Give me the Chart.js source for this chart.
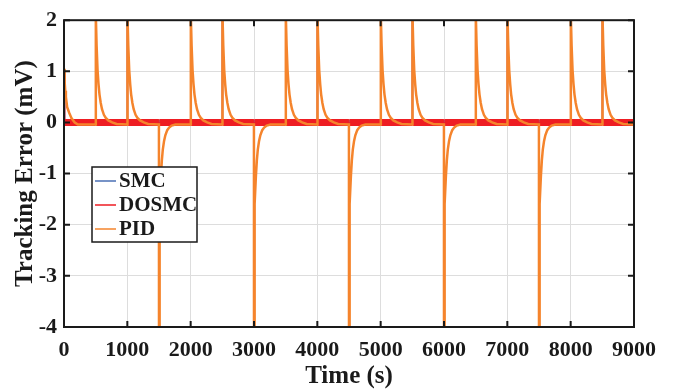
<!DOCTYPE html>
<html>
<head>
<meta charset="utf-8">
<script src="https://cdn.jsdelivr.net/npm/chart.js@4.4.0/dist/chart.umd.min.js"></script>
<style>
  html, body { margin: 0; padding: 0; background: #fff; }
  #wrap { width: 673px; height: 389px; }
</style>
</head>
<body>
<div id="wrap"><canvas id="err" width="673" height="389"></canvas></div>
<script>
const seriesNames = ['SMC', 'DOSMC', 'PID'];
const seriesColors = ['#4a6fb5', '#ee1d23', '#f5842c'];
const xTicks = [0, 1000, 2000, 3000, 4000, 5000, 6000, 7000, 8000, 9000];
const yTicks = [-4, -3, -2, -1, 0, 1, 2];

// load switching instants (s) and step direction
const switchTimes = [500, 1000, 1500, 2000, 2500, 3000, 3500, 4000, 4500, 5000, 5500, 6000, 6500, 7000, 7500, 8000, 8500];
const switchSigns = [1, 1, -1, 1, 1, -1, 1, 1, -1, 1, 1, -1, 1, 1, -1, 1, 1];

// PID transient after a switch: offset (s) -> error (mV)
const pidOffsets = [0, 5, 15, 30, 45, 60, 80, 100, 130, 160, 200, 260, 330];
const pidRise = [2.6, 2.1, 1.5, 1.02, 0.75, 0.55, 0.38, 0.26, 0.15, 0.09, 0.04, 0.0, -0.03];
const pidDrop = [-4.6, -2.6, -1.6, -1.05, -0.74, -0.53, -0.36, -0.25, -0.15, -0.1, -0.06, -0.04, -0.04];
const pidStartOffsets = [0, 10, 20, 30, 50, 85, 120, 170, 220];
const pidStart = [1.05, 0.8, 0.62, 0.5, 0.3, 0.18, 0.08, 0.0, -0.04];
const pidRest = -0.04;

// sliding mode controllers: short spike at each switch (up, down)
const smcStart = [1.0, 0.0];
const smcSpike = [2.6, -4.6];
const dosmcStart = [1.0, 0.0];
const dosmcSpike = [2.6, -4.6];
const smRest = 0.0;

function pidPoints() {
  const pts = pidStartOffsets.map((o, i) => ({ x: o, y: pidStart[i] }));
  switchTimes.forEach((t, k) => {
    const shape = switchSigns[k] > 0 ? pidRise : pidDrop;
    pts.push({ x: t - 1, y: pidRest });
    pidOffsets.forEach((o, i) => pts.push({ x: t + o, y: shape[i] }));
  });
  pts.push({ x: 9000, y: pidRest });
  return pts;
}

function smPoints(start, spike) {
  const pts = [{ x: 0, y: start[0] }, { x: 10, y: start[1] }];
  switchTimes.forEach((t, k) => {
    pts.push({ x: t - 1, y: smRest });
    pts.push({ x: t, y: switchSigns[k] > 0 ? spike[0] : spike[1] });
    pts.push({ x: t + 4, y: smRest });
  });
  pts.push({ x: 9000, y: smRest });
  return pts;
}

// thick noisy band near zero, thin lines on the spikes
function bandWidth(thick, thin) {
  return ctx => (Math.abs(ctx.p0.parsed.y) > 0.3 || Math.abs(ctx.p1.parsed.y) > 0.3) ? thin : thick;
}

const serif = "'Liberation Serif', 'Times New Roman', serif";

const frame = {
  id: 'frame',
  afterDatasetsDraw(chart) {
    const { ctx, chartArea: a, scales: { x, y } } = chart;
    ctx.save();
    ctx.strokeStyle = '#1a1a1a';
    ctx.lineWidth = 2;
    ctx.strokeRect(a.left, a.top, a.right - a.left, a.bottom - a.top);
    const len = 6;
    ctx.beginPath();
    xTicks.forEach(v => {
      const px = x.getPixelForValue(v);
      ctx.moveTo(px, a.bottom); ctx.lineTo(px, a.bottom - len);
      ctx.moveTo(px, a.top); ctx.lineTo(px, a.top + len);
    });
    yTicks.forEach(v => {
      const py = y.getPixelForValue(v);
      ctx.moveTo(a.left, py); ctx.lineTo(a.left + len, py);
      ctx.moveTo(a.right, py); ctx.lineTo(a.right - len, py);
    });
    ctx.stroke();

    // legend box
    const bx = 92, by = 167, bw = 105, bh = 75;
    ctx.fillStyle = '#fff';
    ctx.fillRect(bx, by, bw, bh);
    ctx.lineWidth = 1.5;
    ctx.strokeRect(bx, by, bw, bh);
    ctx.font = 'bold 21px ' + serif;
    ctx.textBaseline = 'middle';
    seriesNames.forEach((name, i) => {
      const ly = by + 14 + i * 24;
      ctx.strokeStyle = seriesColors[i];
      ctx.lineWidth = 1.5;
      ctx.beginPath();
      ctx.moveTo(bx + 3, ly); ctx.lineTo(bx + 24, ly);
      ctx.stroke();
      ctx.fillStyle = '#1a1a1a';
      ctx.fillText(name, bx + 27, ly + 1);
    });
    ctx.restore();
  }
};

new Chart(document.getElementById('err'), {
  type: 'line',
  data: {
    datasets: [
      {
        label: seriesNames[0], data: smPoints(smcStart, smcSpike),
        borderColor: seriesColors[0], borderWidth: 5, order: 3,
        segment: { borderWidth: bandWidth(5, 1.5) }
      },
      {
        label: seriesNames[1], data: smPoints(dosmcStart, dosmcSpike),
        borderColor: seriesColors[1], borderWidth: 7, order: 2,
        segment: { borderWidth: bandWidth(7, 1.5) }
      },
      {
        label: seriesNames[2], data: pidPoints(),
        borderColor: seriesColors[2], borderWidth: 2.5, order: 1
      }
    ]
  },
  options: {
    responsive: false,
    animation: false,
    devicePixelRatio: 1,
    parsing: false,
    elements: { point: { radius: 0 }, line: { tension: 0 } },
    datasets: { line: { clip: 0 } },
    layout: { padding: { top: 13, right: 39, left: 0, bottom: 0 } },
    plugins: { legend: { display: false }, tooltip: { enabled: false } },
    scales: {
      x: {
        type: 'linear', min: 0, max: 9000,
        afterBuildTicks: s => { s.ticks = xTicks.map(v => ({ value: v })); },
        afterFit: s => { s.height = 62; },
        grid: { color: '#dddddd', lineWidth: 1, drawTicks: false },
        border: { display: false },
        ticks: {
          color: '#1a1a1a', padding: 10, maxRotation: 0, autoSkip: false,
          callback: v => String(v),
          font: { family: serif, size: 22, weight: 'bold' }
        },
        title: { display: true, text: 'Time (s)', color: '#1a1a1a', padding: { top: 0, bottom: 0 }, font: { family: serif, size: 25, weight: 'bold', lineHeight: 1 } }
      },
      y: {
        type: 'linear', min: -4, max: 2,
        afterBuildTicks: s => { s.ticks = yTicks.map(v => ({ value: v })); },
        afterFit: s => { s.width = 64; },
        grid: { color: '#dddddd', lineWidth: 1, drawTicks: false },
        border: { display: false },
        ticks: { color: '#1a1a1a', padding: 7, font: { family: serif, size: 22, weight: 'bold' } },
        title: { display: true, text: 'Tracking Error (mV)', color: '#1a1a1a', padding: { top: 11, bottom: 0 }, font: { family: serif, size: 25, weight: 'bold' } }
      }
    }
  },
  plugins: [frame]
});
</script>
</body>
</html>
